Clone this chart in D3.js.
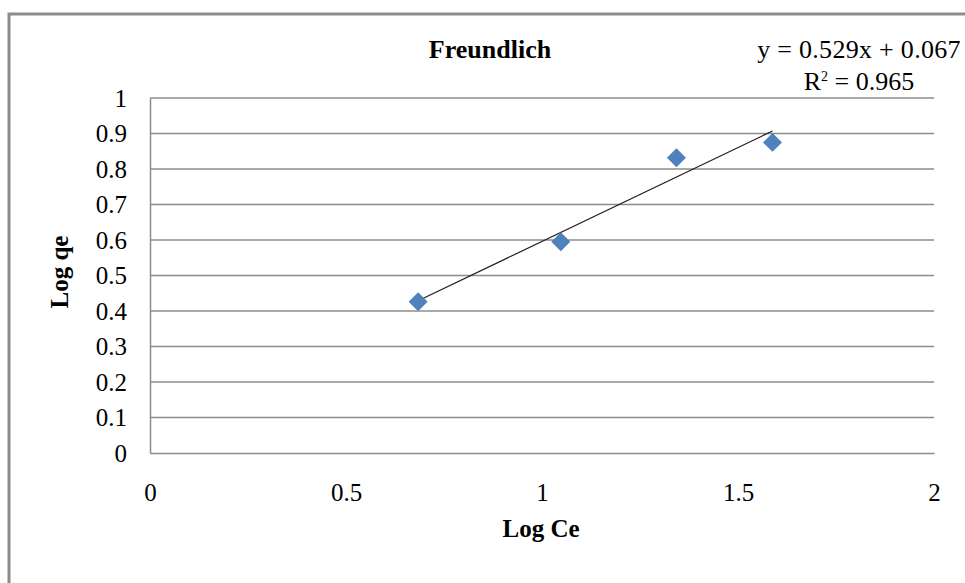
<!DOCTYPE html>
<html>
<head>
<meta charset="utf-8">
<script src="https://cdn.jsdelivr.net/npm/d3@7"></script>
<style>
html,body{margin:0;padding:0;background:#fff;}
svg{display:block;}
text{font-family:"Liberation Serif","Times New Roman",serif;fill:#000;}
</style>
</head>
<body>
<script>
const logCe = [0.684, 1.048, 1.343, 1.588];
const logQe = [0.426, 0.595, 0.832, 0.875];
const slope = 0.529;
const intercept = 0.067;
const xTicks = [0, 0.5, 1, 1.5, 2];
const yTicks = [0, 0.1, 0.2, 0.3, 0.4, 0.5, 0.6, 0.7, 0.8, 0.9, 1];
const titleText = "Freundlich";
const eqText = "y = 0.529x + 0.067";
const r2Text = "0.965";

const W = 965, H = 583;
const svg = d3.select("body").append("svg").attr("width", W).attr("height", H);

// outer frame
svg.append("path")
  .attr("d", `M9,${H+5} L9,14 L${W+5},14`)
  .attr("fill", "none").attr("stroke", "#8c8c8c").attr("stroke-width", 3);

const x = d3.scaleLinear().domain([0, 2]).range([150, 934]);
const y = d3.scaleLinear().domain([0, 1]).range([453, 98]);

// gridlines
svg.append("g").selectAll("line").data(yTicks.filter(d => d > 0)).join("line")
  .attr("x1", x(0)).attr("x2", x(2))
  .attr("y1", d => y(d)).attr("y2", d => y(d))
  .attr("stroke", "#8c8c8c").attr("stroke-width", 1.3);

// axes
const yAxis = d3.axisLeft(y).tickValues(yTicks).tickSize(0).tickPadding(23).tickFormat(d => String(d));
const gy = svg.append("g").attr("transform", `translate(${x(0)},0)`).call(yAxis);
gy.select(".domain").attr("stroke", "#8c8c8c").attr("stroke-width", 1.5);
gy.selectAll("text").attr("font-size", 25).attr("font-family", "Liberation Serif");

const xAxis = d3.axisBottom(x).tickValues(xTicks).tickSize(0).tickPadding(30).tickFormat(d => String(d));
const gx = svg.append("g").attr("transform", `translate(0,${y(0)})`).call(xAxis);
gx.select(".domain").attr("stroke", "#8c8c8c").attr("stroke-width", 1.5);
gx.selectAll("text").attr("font-size", 25).attr("font-family", "Liberation Serif");

// trendline
const x0 = d3.min(logCe), x1 = d3.max(logCe);
svg.append("line")
  .attr("x1", x(x0)).attr("y1", y(slope * x0 + intercept))
  .attr("x2", x(x1)).attr("y2", y(slope * x1 + intercept))
  .attr("stroke", "#222").attr("stroke-width", 1.2);

// markers
const pts = logCe.map((v, i) => [v, logQe[i]]);
svg.append("g").selectAll("path").data(pts).join("path")
  .attr("transform", d => `translate(${x(d[0])},${y(d[1])})`)
  .attr("d", d3.symbol(d3.symbolDiamond2, 230)())
  .attr("fill", "#4F81BD");

// title
svg.append("text").attr("x", 490).attr("y", 58).attr("text-anchor", "middle")
  .attr("font-size", 26).attr("font-weight", "bold").text(titleText);

// equation
svg.append("text").attr("x", 859).attr("y", 58).attr("text-anchor", "middle")
  .attr("font-size", 26).attr("letter-spacing", 0.3).text(eqText);
const r2 = svg.append("text").attr("x", 859).attr("y", 90).attr("text-anchor", "middle").attr("font-size", 26);
r2.append("tspan").text("R");
r2.append("tspan").attr("font-size", 14).attr("dy", -9).text("2");
r2.append("tspan").attr("dy", 9).text(" = " + r2Text);

// axis titles
svg.append("text").attr("x", 541).attr("y", 537).attr("text-anchor", "middle")
  .attr("font-size", 25).attr("font-weight", "bold").text("Log Ce");
svg.append("text").attr("transform", "translate(68,272) rotate(-90)").attr("text-anchor", "middle")
  .attr("font-size", 25).attr("font-weight", "bold").text("Log qe");
</script>
</body>
</html>
